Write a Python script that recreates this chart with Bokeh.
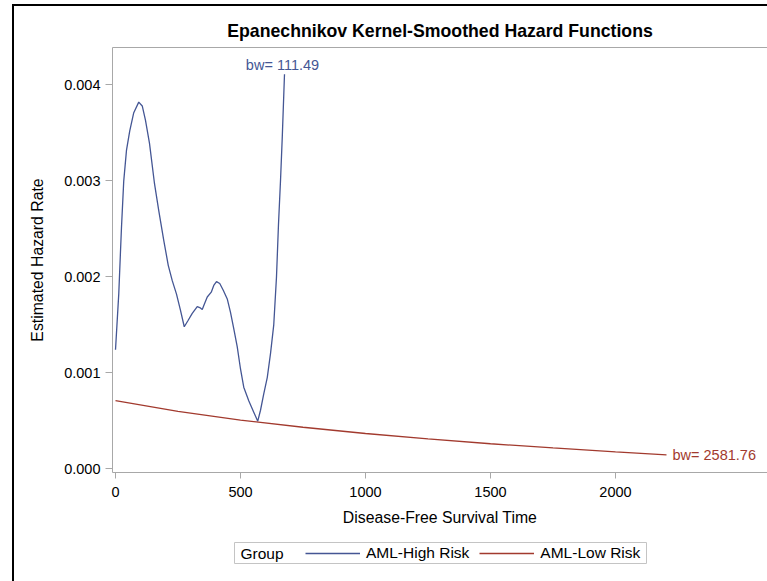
from bokeh.plotting import figure
from bokeh.models import (Range1d, LinearAxis, Legend, LegendItem, FixedTicker,
                          NumeralTickFormatter, Label, Spacer)
from bokeh.layouts import row, column
from bokeh.embed import file_html
from bokeh.resources import INLINE

# Kernel-smoothed hazard estimates, AML high-risk group
high_x = [0, 13, 24, 33, 44, 57, 73, 93, 107, 120, 136, 156, 173, 193, 211, 227, 244, 260, 275,
          289, 307, 327, 337, 347, 356, 367, 383, 393, 404, 417, 431, 447, 460, 473, 487, 500,
          513, 533, 553, 569, 580, 593, 607, 620, 633, 644, 652, 660, 667, 676]
high_y = [0.00124, 0.00182, 0.00252, 0.00300, 0.00332, 0.00352, 0.00371, 0.00382, 0.00378,
          0.00363, 0.00339, 0.00297, 0.00269, 0.00238, 0.00212, 0.00196, 0.00182, 0.00165,
          0.00148, 0.00154, 0.00162, 0.00169, 0.00168, 0.00166, 0.00172, 0.00179, 0.00184,
          0.00191, 0.00195, 0.00193, 0.00186, 0.00177, 0.00163, 0.00146, 0.00127, 0.00104,
          0.00085, 0.00071, 0.00059, 0.000496, 0.00061, 0.00078, 0.00095, 0.00120, 0.00150,
          0.00200, 0.00255, 0.00300, 0.00345, 0.00411]
high_bw = 111.49

# Kernel-smoothed hazard estimates, AML low-risk group
low_x = [0, 250, 500, 750, 1000, 1250, 1500, 1750, 2000, 2204]
low_y = [0.000711, 0.000598, 0.000508, 0.000433, 0.000368, 0.000311, 0.000261, 0.000217,
         0.000177, 0.000146]
low_bw = 2581.76

legend_title = "Group"
group_labels = ["AML-High Risk", "AML-Low Risk"]
x_ticks = [0, 500, 1000, 1500, 2000]
y_ticks = [0.000, 0.001, 0.002, 0.003, 0.004]

BLUE = "#445694"
RED = "#A23A2E"
AXIS_GRAY = "#A8A8A8"
FONT = "Liberation Sans"

# ---- main hazard plot -------------------------------------------------------
p = figure(width=753, height=535, output_backend="svg", toolbar_location=None,
           x_range=Range1d(-12, 2608), y_range=Range1d(-0.0000385, 0.004389),
           x_axis_location=None, y_axis_location=None,
           min_border_left=98, min_border_top=41, min_border_bottom=69, min_border_right=0)
p.outline_line_color = None
p.grid.visible = False
p.background_fill_color = "white"
p.border_fill_color = "white"

p.title.text = "Epanechnikov Kernel-Smoothed Hazard Functions"
p.title.align = "center"
p.title.text_font = FONT
p.title.text_font_size = "17.7px"
p.title.text_font_style = "bold"
p.title.text_color = "black"
p.title.standoff = 14


def style_axis(ax):
    ax.axis_line_color = AXIS_GRAY
    ax.major_tick_line_color = AXIS_GRAY
    ax.minor_tick_line_color = None
    ax.major_tick_in = 0
    ax.major_label_text_font = FONT
    ax.major_label_text_font_size = "14.5px"
    ax.major_label_text_color = "black"
    ax.axis_label_text_font = FONT
    ax.axis_label_text_font_size = "15.8px"
    ax.axis_label_text_font_style = "normal"
    ax.axis_label_text_color = "black"


yaxis = LinearAxis(ticker=FixedTicker(ticks=y_ticks), formatter=NumeralTickFormatter(format="0.000"),
                   axis_label="Estimated Hazard Rate")
style_axis(yaxis)
yaxis.major_tick_out = 7
yaxis.major_label_standoff = 5
yaxis.axis_label_standoff = 15
p.add_layout(yaxis, "left")

xaxis = LinearAxis(ticker=FixedTicker(ticks=x_ticks), formatter=NumeralTickFormatter(format="0"),
                   axis_label="Disease-Free Survival Time")
style_axis(xaxis)
xaxis.major_tick_out = 6
xaxis.major_label_standoff = 8
xaxis.axis_label_standoff = 9
p.add_layout(xaxis, "below")

# top edge of the plot area
top_edge = LinearAxis(ticker=FixedTicker(ticks=[]))
top_edge.axis_line_color = AXIS_GRAY
top_edge.major_tick_line_color = None
top_edge.minor_tick_line_color = None
top_edge.major_label_text_alpha = 0
p.add_layout(top_edge, "above")

p.line(high_x, high_y, line_color=BLUE, line_width=1.3)
p.line(low_x, low_y, line_color=RED, line_width=1.3)

p.add_layout(Label(x=high_x[-1], y=high_y[-1], text=f"bw={high_bw:8.2f}", text_align="center",
                   text_baseline="alphabetic", y_offset=9, text_color=BLUE,
                   text_font=FONT, text_font_size="14.5px"))
p.add_layout(Label(x=low_x[-1], y=low_y[-1], text=f"bw={low_bw:8.2f}", text_align="left",
                   text_baseline="middle", x_offset=6, text_color=RED,
                   text_font=FONT, text_font_size="14.5px"))

# ---- legend strip -------------------------------------------------------------
lg = figure(width=414, height=23, output_backend="svg", toolbar_location=None,
            x_range=Range1d(0, 1), y_range=Range1d(0, 1),
            x_axis_location=None, y_axis_location=None,
            min_border_left=1, min_border_right=1, min_border_top=1, min_border_bottom=1)
lg.grid.visible = False
lg.outline_line_color = "#C4C4C4"
lg.outline_line_width = 1
lg.border_fill_color = "white"
# hidden copies of the two series, used only for the legend keys
key_high = lg.line(high_x, high_y, line_color=BLUE, line_width=1.3, visible=False)
key_low = lg.line(low_x, low_y, line_color=RED, line_width=1.3, visible=False)
lg.add_layout(Label(x=6, y=10.5, x_units="screen", y_units="screen", text=legend_title,
                    text_baseline="middle", text_align="left", text_color="black",
                    text_font=FONT, text_font_size="15.5px"))
legend = Legend(items=[LegendItem(label=group_labels[0], renderers=[key_high]),
                       LegendItem(label=group_labels[1], renderers=[key_low])],
                orientation="horizontal", location=(71, 1))
legend.label_text_font = FONT
legend.label_text_font_size = "15.5px"
legend.label_text_color = "black"
legend.border_line_color = None
legend.background_fill_alpha = 0
legend.glyph_width = 55
legend.glyph_height = 14
legend.label_height = 14
legend.label_standoff = 6
legend.spacing = 10
legend.padding = 0
legend.margin = 0
legend.click_policy = "none"
lg.add_layout(legend, "center")

# ---- page: outer black frame on the left and top ------------------------------
content = column(p, row(Spacer(width=219, height=23), lg))
framed = column(Spacer(width=755, height=2, styles={"background-color": "black"}),
                row(Spacer(width=2, height=575, styles={"background-color": "black"}), content))
page = column(Spacer(width=767, height=4), row(Spacer(width=12, height=577), framed))

open("out.html", "w").write(file_html(page, INLINE))
